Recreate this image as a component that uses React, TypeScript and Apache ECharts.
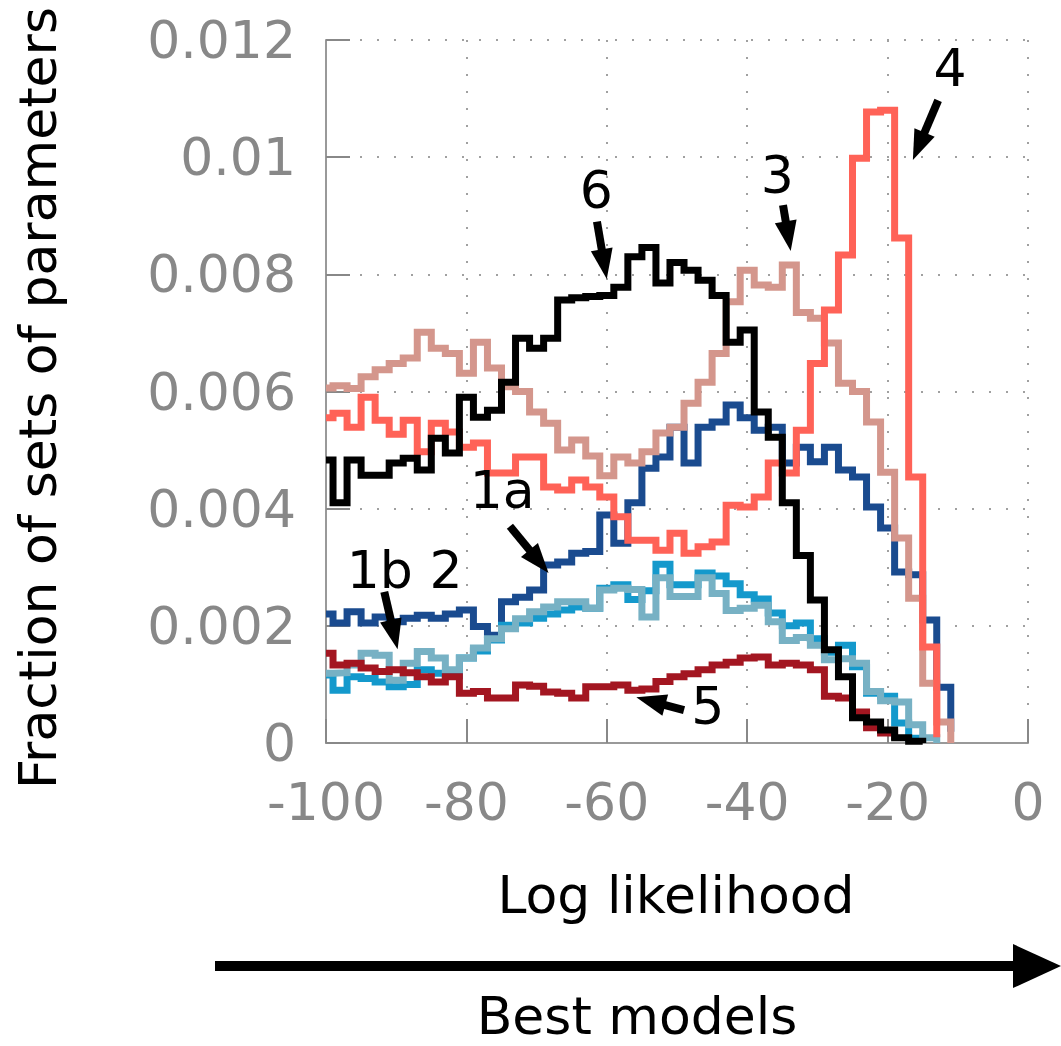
import React, { useEffect, useRef } from "react";
import * as echarts from "echarts";

// Bin edges of the histograms (log likelihood); first bin is clipped at -100
const binEdges: number[] = [-100];
for (let e = -99; e <= -11; e += 2) binEdges.push(e);

// Fraction of sets of parameters, in units of 1e-3; value i holds from binEdges[i] to binEdges[i+1],
// last value is the level the step drops to at the final edge
const model1a = [2.2, 2.05, 2.24, 2.05, 2.15, 2.07, 2.13, 2.18, 2.13, 2.2, 2.27, 1.99, 1.84, 2.41, 2.49, 2.61, 3.04, 3.09, 3.24, 3.27, 3.89, 3.41, 4.1, 4.69, 4.88, 5.39, 4.78, 5.39, 5.48, 5.77, 5.55, 5.34, 5.39, 4.78, 5.05, 4.8, 5.05, 4.66, 4.54, 4.03, 3.67, 2.92, 2.87, 2.1, 0.95, 0.19];
const model1b = [1.16, 0.9, 1.13, 1.1, 1.04, 0.96, 1.0, 1.25, 1.19, 1.15, 1.45, 1.57, 1.76, 2.01, 2.05, 2.13, 2.2, 2.27, 2.32, 2.3, 2.64, 2.7, 2.45, 2.6, 3.05, 2.7, 2.7, 2.9, 2.85, 2.72, 2.53, 2.46, 2.22, 2.0, 2.05, 1.78, 1.55, 1.67, 1.3, 0.85, 0.8, 0.34, 0.08, 0];
const model2 = [1.19, 1.2, 1.33, 1.53, 1.5, 1.07, 1.36, 1.56, 1.45, 1.25, 1.45, 1.62, 1.78, 1.95, 2.12, 2.24, 2.32, 2.41, 2.41, 2.3, 2.61, 2.64, 2.62, 2.15, 2.82, 2.5, 2.5, 2.82, 2.55, 2.26, 2.3, 2.35, 2.07, 1.75, 1.8, 1.67, 1.42, 1.44, 1.36, 0.88, 0.72, 0.7, 0.31, 0.09, 0];
const model3 = [6.06, 6.1, 6.05, 6.25, 6.37, 6.48, 6.57, 7.01, 6.74, 6.65, 6.31, 6.84, 6.4, 6.08, 6.0, 5.65, 5.46, 5.0, 5.17, 4.9, 4.56, 4.88, 4.78, 4.97, 5.29, 5.39, 5.8, 6.16, 6.65, 7.53, 8.07, 7.82, 7.78, 8.16, 7.35, 7.25, 6.83, 6.14, 6.0, 5.48, 4.62, 3.5, 2.47, 1.02, 0.36, 0];
const model4 = [5.55, 5.63, 5.39, 5.9, 5.51, 5.27, 5.51, 4.97, 5.46, 5.31, 5.05, 5.12, 4.61, 4.61, 4.88, 4.88, 4.37, 4.32, 4.49, 4.37, 4.2, 3.86, 3.46, 3.46, 3.29, 3.58, 3.24, 3.35, 3.43, 4.06, 4.03, 4.2, 4.78, 4.61, 5.34, 6.48, 7.39, 8.33, 9.98, 10.77, 10.8, 8.62, 4.54, 1.64, 0.1];
const model5 = [1.53, 1.33, 1.36, 1.28, 1.22, 1.25, 1.2, 1.13, 1.04, 1.13, 0.85, 0.88, 0.77, 0.77, 0.99, 0.97, 0.87, 0.85, 0.77, 0.96, 0.96, 0.99, 0.9, 0.92, 1.05, 1.13, 1.18, 1.25, 1.33, 1.38, 1.45, 1.47, 1.33, 1.36, 1.33, 1.25, 0.8, 0.77, 0.53, 0.26, 0.17, 0.05];
const model6 = [4.83, 4.1, 4.83, 4.57, 4.57, 4.78, 4.86, 4.66, 5.2, 4.95, 5.9, 5.56, 5.68, 6.16, 6.91, 6.74, 6.91, 7.56, 7.6, 7.62, 7.64, 7.78, 8.3, 8.46, 7.85, 8.2, 8.07, 7.9, 7.64, 6.84, 7.05, 5.65, 5.22, 4.1, 3.2, 2.44, 1.59, 1.13, 0.43, 0.36, 0.22, 0.09, 0.03, 0];

const xTicks = [-100, -80, -60, -40, -20, 0];
const yTicks = [0, 0.002, 0.004, 0.006, 0.008, 0.01, 0.012];

const seriesDefs = [
  { name: "1a", values: model1a, color: "#1a4b8f" },
  { name: "1b", values: model1b, color: "#1499cc" },
  { name: "2", values: model2, color: "#77b1c4" },
  { name: "3", values: model3, color: "#d4968c" },
  { name: "4", values: model4, color: "#ff6257" },
  { name: "5", values: model5, color: "#a31621" },
  { name: "6", values: model6, color: "#000000" },
];

// annotation labels and arrows, in data coordinates (y in units of 1e-3)
const annotations = [
  { text: "6", at: [-61.5, 9.44], from: [-61.4, 8.9], to: [-60.0, 7.92] },
  { text: "3", at: [-35.7, 9.69], from: [-34.9, 9.18], to: [-33.8, 8.4] },
  { text: "4", at: [-11.1, 11.52], from: [-12.8, 10.97], to: [-16.4, 9.95] },
  { text: "1a", at: [-74.9, 4.32], from: [-73.8, 3.7], to: [-68.3, 2.9] },
  { text: "1b 2", at: [-88.8, 2.95], from: [-91.7, 2.58], to: [-89.8, 1.6] },
  { text: "5", at: [-45.6, 0.63], from: [-49.0, 0.56], to: [-55.8, 0.78] },
];

const FONT = "DejaVu Sans";
const FS = 52;
const SCALE = 0.001;

function arrowShapes(p1: number[], p2: number[], shaft: number, headLen: number, headHalf: number) {
  const dx = p2[0] - p1[0];
  const dy = p2[1] - p1[1];
  const len = Math.sqrt(dx * dx + dy * dy);
  const ux = dx / len;
  const uy = dy / len;
  const bx = p2[0] - ux * headLen;
  const by = p2[1] - uy * headLen;
  const nx = -uy;
  const ny = ux;
  return [
    {
      type: "line",
      shape: { x1: p1[0], y1: p1[1], x2: bx + ux * 2, y2: by + uy * 2 },
      style: { stroke: "#000", lineWidth: shaft },
      z: 100,
    },
    {
      type: "polygon",
      shape: {
        points: [
          [p2[0], p2[1]],
          [bx + nx * headHalf, by + ny * headHalf],
          [bx - nx * headHalf, by - ny * headHalf],
        ],
      },
      style: { fill: "#000" },
      z: 100,
    },
  ];
}

export default function App() {
  const ref = useRef<HTMLDivElement>(null);
  useEffect(() => {
    if (!ref.current) return;
    const chart = echarts.init(ref.current, null, { renderer: "svg" });
    const gray = "#888888";
    const axisGray = "#999999";
    const gridGray = "#a0a0a0";
    chart.setOption({
      animation: false,
      backgroundColor: "#ffffff",
      grid: { left: 326, top: 40, width: 702, height: 703, containLabel: false },
      xAxis: {
        type: "value",
        min: xTicks[0],
        max: xTicks[xTicks.length - 1],
        interval: 20,
        axisLine: { show: true, onZero: false, lineStyle: { color: axisGray, width: 2 } },
        axisTick: { show: true, inside: true, length: 24, lineStyle: { color: gray, width: 2 } },
        axisLabel: {
          color: gray,
          fontSize: FS,
          fontFamily: FONT,
          margin: 33,
          formatter: (v: number) => String(v),
        },
        splitLine: { show: true, lineStyle: { color: gridGray, width: 2, type: [2, 15] } },
      },
      yAxis: {
        type: "value",
        min: yTicks[0],
        max: yTicks[yTicks.length - 1],
        interval: 0.002,
        axisLine: { show: true, onZero: false, lineStyle: { color: axisGray, width: 2 } },
        axisTick: { show: true, inside: true, length: 24, lineStyle: { color: gray, width: 2 } },
        axisLabel: {
          color: gray,
          fontSize: FS,
          fontFamily: FONT,
          margin: 30,
          formatter: (v: number) => (v === 0 ? "0" : String(+v.toFixed(3))),
        },
        splitLine: { show: true, lineStyle: { color: gridGray, width: 2, type: [2, 15] } },
      },
      series: seriesDefs.map((s) => ({
        name: s.name,
        type: "line",
        step: "end",
        symbol: "none",
        clip: true,
        data: s.values.map((v, i) => [binEdges[i], v * SCALE]),
        lineStyle: { color: s.color, width: 7, join: "miter" },
        itemStyle: { color: s.color },
      })),
    });

    const graphics: any[] = [];
    annotations.forEach((a) => {
      const at = chart.convertToPixel({ gridIndex: 0 }, [a.at[0], a.at[1] * SCALE]) as number[];
      const p1 = chart.convertToPixel({ gridIndex: 0 }, [a.from[0], a.from[1] * SCALE]) as number[];
      const p2 = chart.convertToPixel({ gridIndex: 0 }, [a.to[0], a.to[1] * SCALE]) as number[];
      graphics.push({
        type: "text",
        x: at[0],
        y: at[1],
        z: 100,
        style: {
          text: a.text,
          fontSize: FS,
          fontFamily: FONT,
          fill: "#000",
          align: "center",
          verticalAlign: "middle",
        },
      });
      graphics.push(...arrowShapes(p1, p2, 8, 30, 11));
    });
    graphics.push({
      type: "text",
      x: 676,
      y: 895,
      style: { text: "Log likelihood", fontSize: FS, fontFamily: FONT, fill: "#000", align: "center", verticalAlign: "middle" },
    });
    graphics.push({
      type: "text",
      x: 38,
      y: 398,
      rotation: Math.PI / 2,
      style: {
        text: "Fraction of sets of parameters",
        fontSize: FS,
        fontFamily: FONT,
        fill: "#000",
        align: "center",
        verticalAlign: "middle",
      },
    });
    graphics.push(...arrowShapes([215, 966], [1061, 966], 10, 48, 22));
    graphics.push({
      type: "text",
      x: 637,
      y: 1016,
      style: { text: "Best models", fontSize: FS, fontFamily: FONT, fill: "#000", align: "center", verticalAlign: "middle" },
    });
    chart.setOption({ graphic: graphics });

    return () => chart.dispose();
  }, []);
  return (
    <div
      ref={ref}
      style={{ position: "absolute", left: 0, top: 0, width: 1061, height: 1046 }}
    />
  );
}
